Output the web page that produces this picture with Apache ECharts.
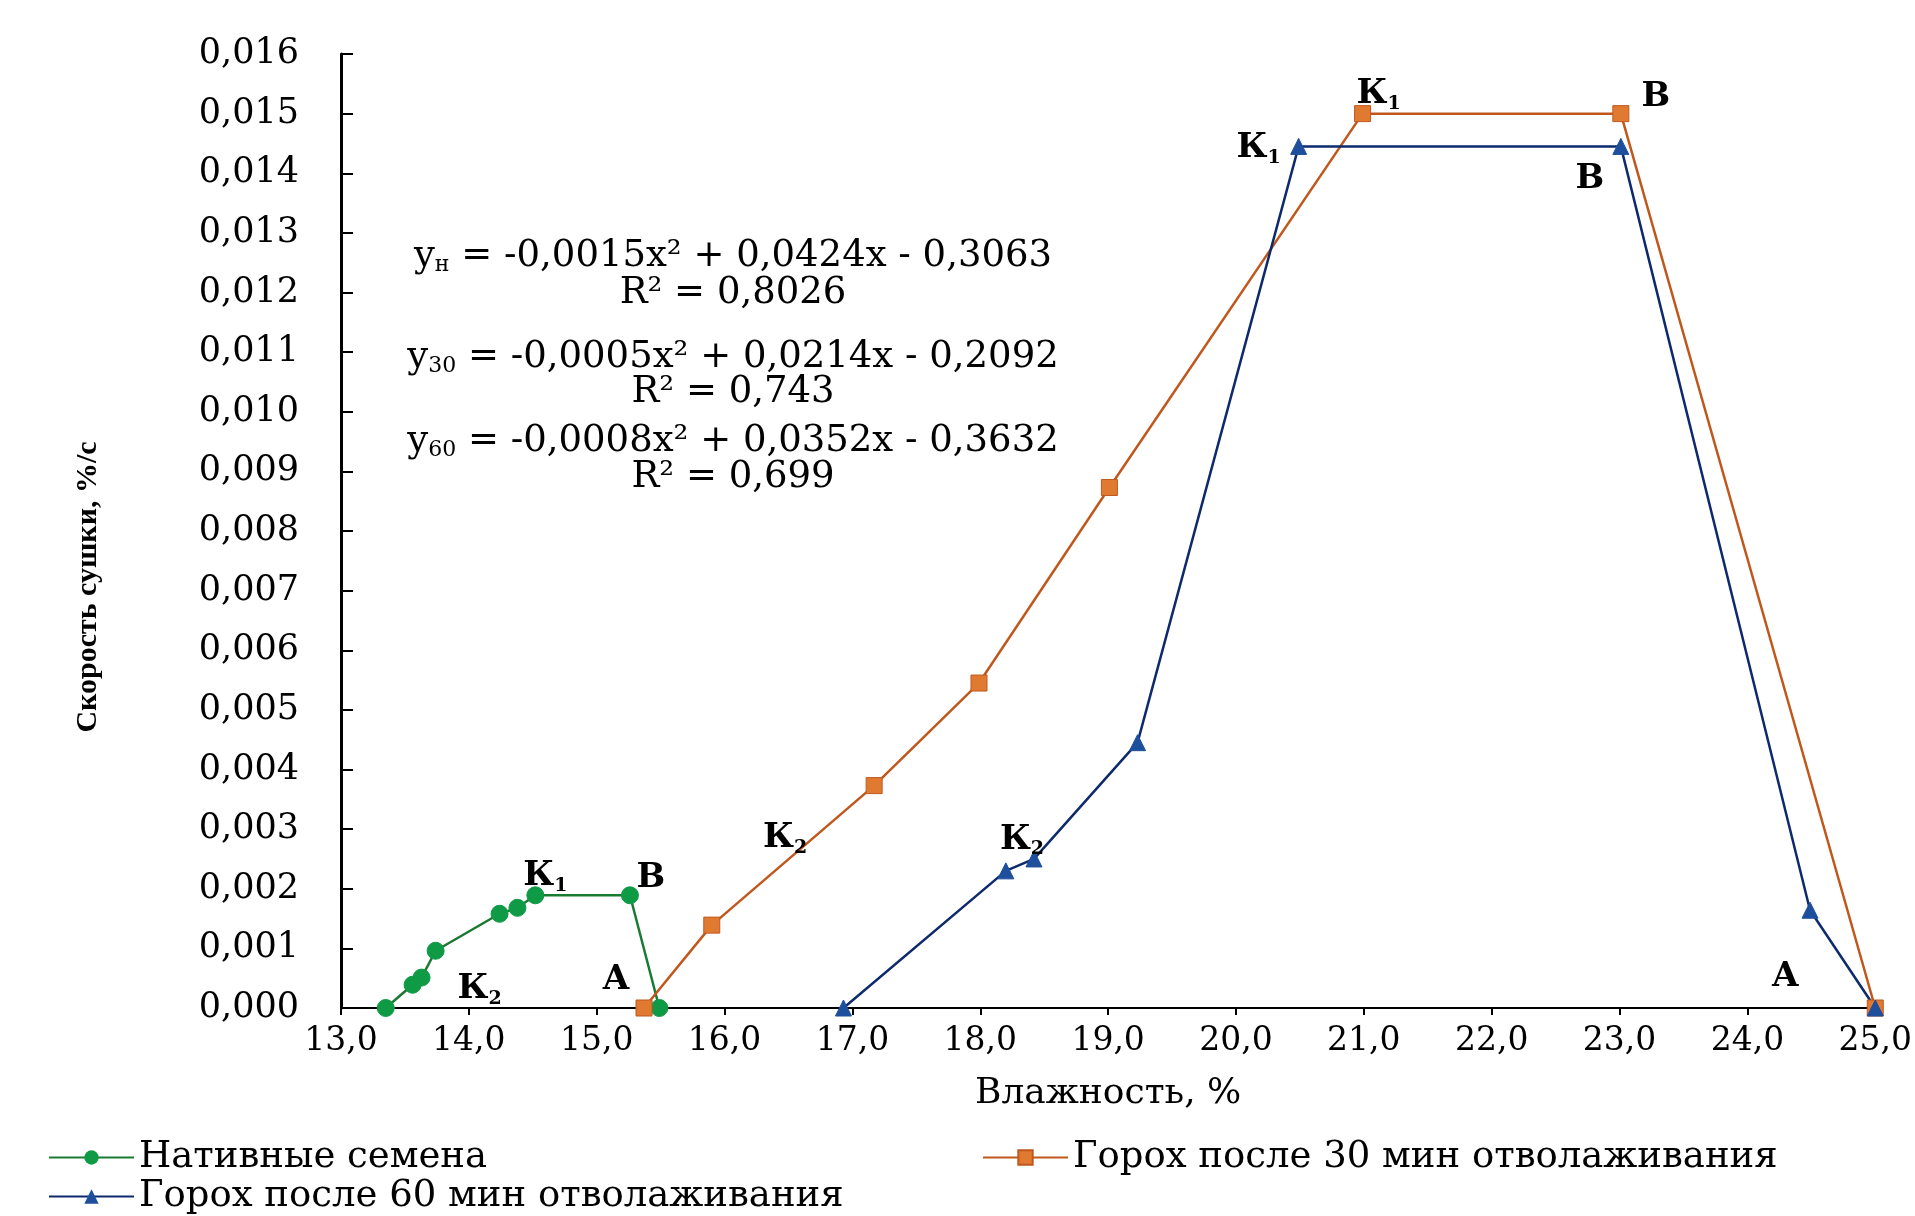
<!DOCTYPE html>
<html><head><meta charset="utf-8">
<script src="https://cdn.jsdelivr.net/npm/echarts@6/dist/echarts.min.js"></script>
<style>html,body{margin:0;padding:0;background:#fff}#c{width:1915px;height:1216px}</style>
</head><body><div id="c"></div>
<script>
// ---- data ----
const nativeX = [13.35, 13.56, 13.63, 13.74, 14.24, 14.38, 14.52, 15.26, 15.49];
const nativeY = [0.0, 0.00039, 0.00051, 0.00096, 0.00158, 0.00168, 0.00189, 0.00189, 0.0];
const pea30X = [15.37, 15.90, 17.17, 17.99, 19.01, 20.99, 23.01, 25.0];
const pea30Y = [0.0, 0.00139, 0.00373, 0.00545, 0.00873, 0.0150, 0.0150, 0.0];
const pea60X = [16.93, 18.20, 18.42, 19.23, 20.49, 23.01, 24.49, 25.0];
const pea60Y = [0.0, 0.0023, 0.0025, 0.00445, 0.01445, 0.01445, 0.00164, 0.0];
const seriesNames = ['Нативные семена', 'Горох после 30 мин отволаживания', 'Горох после 60 мин отволаживания'];
// stage notes attached to points (index -> text)
const nativeNotes = {2: 'К2', 6: 'К1', 7: 'В'};
const pea30Notes = {0: 'А', 2: 'К2', 5: 'К1', 6: 'В'};
const pea60Notes = {2: 'К2', 4: 'К1', 5: 'В', 7: 'А'};
const equations = [
  ['y', 'н', ' = -0,0015x² + 0,0424x - 0,3063', 'R² = 0,8026'],
  ['y', '30', ' = -0,0005x² + 0,0214x - 0,2092', 'R² = 0,743'],
  ['y', '60', ' = -0,0008x² + 0,0352x - 0,3632', 'R² = 0,699']
];
const xTitle = 'Влажность, %';
const yTitle = 'Скорость сушки, %/с';

// ---- styling (positions of notes, in px) ----
const nativeOff = {2: [58, 12], 6: [10, -19], 7: [21, -17]};
const pea30Off = {0: [-28, -28], 2: [-89, 53], 5: [16, -19], 6: [35, -16]};
const pea60Off = {2: [-12, -19], 4: [-40, 2], 5: [-31, 33], 7: [-90, -31]};

const FONT = 'DejaVu Serif';
const noteRich = {
  m: {fontSize: 34, fontWeight: 'bold', fontFamily: FONT, color: '#000', lineHeight: 38},
  s: {fontSize: 19, fontWeight: 'bold', fontFamily: FONT, color: '#000', lineHeight: 19, verticalAlign: 'bottom'}
};
function pts(xs, ys, notes, offs) {
  return xs.map((x, i) => {
    const d = {value: [x, ys[i]]};
    if (notes[i]) {
      const t = notes[i];
      d.label = {
        show: true,
        formatter: t.length > 1 ? '{m|' + t[0] + '}{s|' + t.slice(1) + '}' : '{m|' + t + '}',
        position: 'inside',
        offset: offs[i],
        rich: noteRich
      };
    }
    return d;
  });
}
const fmtComma = d => v => v.toFixed(d).replace('.', ',');

const chart = echarts.init(document.getElementById('c'));
const legendBase = {
  itemWidth: 85, itemHeight: 18, itemGap: 0,
  textStyle: {fontFamily: FONT, fontSize: 37, color: '#000'},
  selectedMode: false
};
const eqGraphics = [];
const eqY = [[256, 293], [357, 392], [441, 477]];
equations.forEach((e, i) => {
  eqGraphics.push({
    type: 'text', x: 733, y: eqY[i][0],
    style: {
      text: '{a|' + e[0] + '}{b|' + e[1] + '}{a|' + e[2] + '}',
      rich: {
        a: {fontSize: 37, fontFamily: FONT, color: '#000', lineHeight: 40},
        b: {fontSize: 22, fontFamily: FONT, color: '#000', lineHeight: 22, verticalAlign: 'bottom'}
      },
      align: 'center', verticalAlign: 'middle'
    }
  });
  eqGraphics.push({
    type: 'text', x: 733, y: eqY[i][1],
    style: {text: e[3], fontSize: 37, fontFamily: FONT, fill: '#000', align: 'center', verticalAlign: 'middle'}
  });
});
eqGraphics.push({
  type: 'text', x: 88, y: 587, rotation: Math.PI / 2,
  style: {text: yTitle, fontSize: 30, fontFamily: 'Liberation Serif', fontWeight: 'bold', fill: '#000', align: 'center', verticalAlign: 'middle'}
});

const option = {
  animation: false,
  backgroundColor: '#fff',
  textStyle: {fontFamily: FONT},
  grid: {left: 341, right: 26, top: 54, bottom: 208, containLabel: false},
  xAxis: {
    type: 'value', min: 13, max: 25, interval: 1,
    name: xTitle, nameLocation: 'middle', nameGap: 68,
    nameTextStyle: {fontFamily: FONT, fontSize: 36, color: '#000'},
    axisLine: {show: true, onZero: false, lineStyle: {color: '#000', width: 2}},
    axisTick: {show: true, inside: false, length: 7, lineStyle: {color: '#000', width: 2}},
    axisLabel: {formatter: fmtComma(1), fontFamily: FONT, fontSize: 33, color: '#000', margin: 17},
    splitLine: {show: false}
  },
  yAxis: {
    type: 'value', min: 0, max: 0.016, interval: 0.001,
    axisLine: {show: true, lineStyle: {color: '#000', width: 3}},
    axisTick: {show: true, inside: true, length: 12, lineStyle: {color: '#000', width: 2}},
    axisLabel: {formatter: fmtComma(3), fontFamily: FONT, fontSize: 35, color: '#000', margin: 42},
    splitLine: {show: false}
  },
  legend: [
    Object.assign({data: [seriesNames[0]], left: 43, top: 1134}, legendBase),
    Object.assign({data: [seriesNames[1]], left: 977, top: 1134}, legendBase),
    Object.assign({data: [seriesNames[2]], left: 43, top: 1173}, legendBase)
  ],
  graphic: eqGraphics,
  series: [
    {
      name: seriesNames[0], type: 'line', data: pts(nativeX, nativeY, nativeNotes, nativeOff),
      symbol: 'circle', symbolSize: 17,
      lineStyle: {color: '#1b7a32', width: 2.5},
      itemStyle: {color: '#0f9a45', borderColor: '#0f9a45'},
      emphasis: {disabled: true}
    },
    {
      name: seriesNames[1], type: 'line', data: pts(pea30X, pea30Y, pea30Notes, pea30Off),
      symbol: 'rect', symbolSize: 16,
      lineStyle: {color: '#c0581e', width: 2.5},
      itemStyle: {color: '#e07a30', borderColor: '#c0581e', borderWidth: 1},
      emphasis: {disabled: true}
    },
    {
      name: seriesNames[2], type: 'line', data: pts(pea60X, pea60Y, pea60Notes, pea60Off),
      symbol: 'triangle', symbolSize: 16,
      lineStyle: {color: '#0d2a6c', width: 2.5},
      itemStyle: {color: '#1d4f9c', borderColor: '#1d4f9c'},
      emphasis: {disabled: true}
    }
  ]
};
chart.setOption(option);
</script>
</body></html>
